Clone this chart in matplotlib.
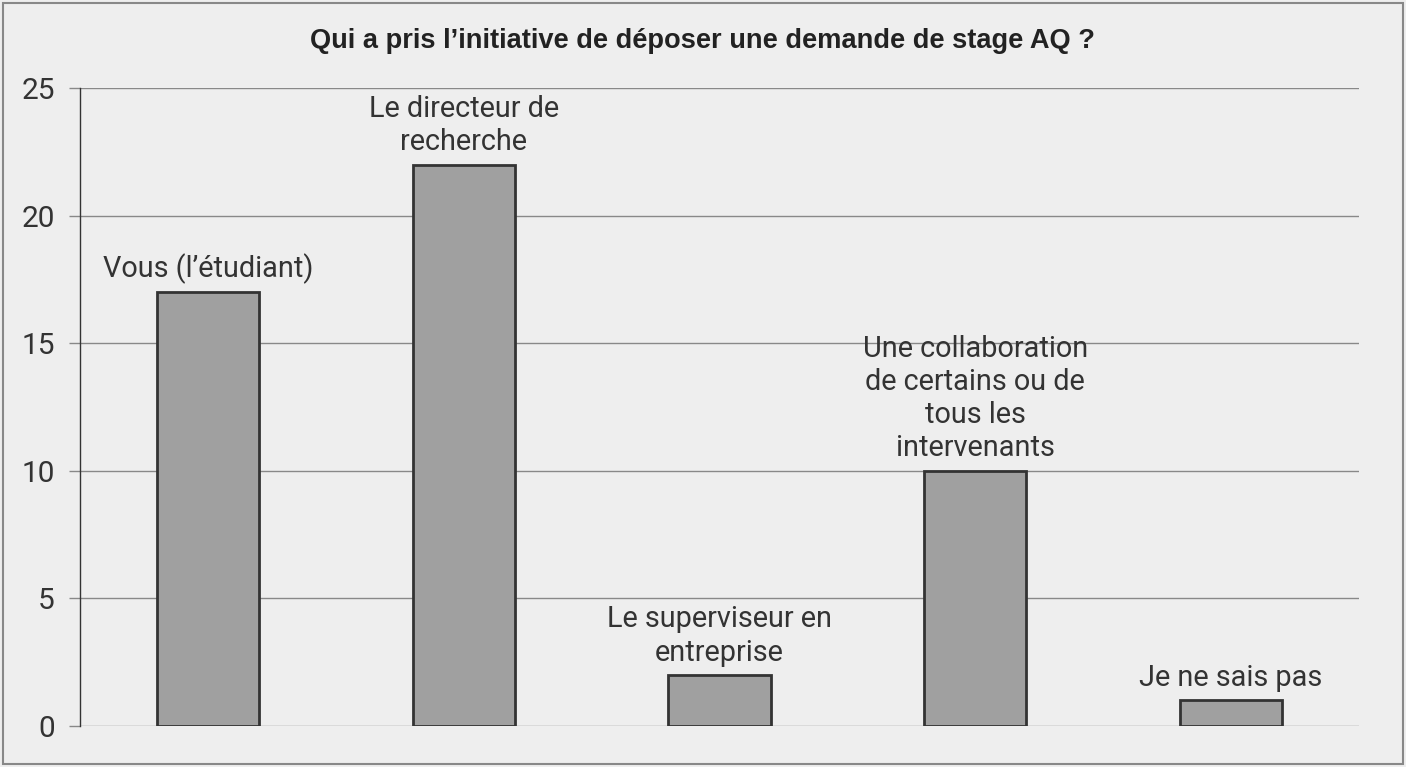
import matplotlib.pyplot as plt
from matplotlib.patches import Rectangle

categories = ['Vous (l’étudiant)',
              'Le directeur de\nrecherche',
              'Le superviseur en\nentreprise',
              'Une collaboration\nde certains ou de\ntous les\nintervenants',
              'Je ne sais pas']
counts = [17, 22, 2, 10, 1]
yticks = [0, 5, 10, 15, 20, 25]
title = 'Qui a pris l’initiative de déposer une demande de stage AQ ?'

plt.rcParams['font.family'] = ['Roboto', 'DejaVu Sans']
bg = '#eeeeee'
txt = '#333333'

fig = plt.figure(figsize=(14.06, 7.67), dpi=100, facecolor=bg)
W, H = 1406, 767
ax = fig.add_axes([80 / W, 1 - 726 / H, (1359 - 80) / W, (726 - 88) / H])
ax.set_facecolor(bg)

x = list(range(len(categories)))
ax.bar(x, counts, width=0.4, color='#a0a0a0', edgecolor='#333333', linewidth=2, zorder=3)

for xi, c, lab in zip(x, counts, categories):
    ax.annotate(lab, (xi, c), xytext=(0, 6), textcoords='offset points',
                ha='center', va='bottom', fontsize=20.8, color=txt,
                linespacing=1.24, zorder=4)

ax.set_xlim(-0.5, 4.5)
ax.set_ylim(0, 25)
ax.set_yticks(yticks)
ax.set_xticks([])
ax.grid(axis='y', color='#888888', linewidth=1, zorder=0)
for s in ['top', 'right', 'bottom']:
    ax.spines[s].set_visible(False)
ax.spines['left'].set_color('#333333')
ax.spines['left'].set_linewidth(1)
ax.tick_params(axis='y', length=8, width=1, color='#888888', pad=10,
               labelsize=21.5, labelcolor=txt)

fig.text(0.5, 1 - 41 / H, title, ha='center', va='center', fontsize=19.6,
         family=['Liberation Sans', 'DejaVu Sans'], fontweight='bold',
         color='#222222')

fig.patches.append(Rectangle((3 / W, 3 / H), 1 - 6 / W, 1 - 6 / H,
                             transform=fig.transFigure, fill=False,
                             edgecolor='#888888', linewidth=1.5))

fig.savefig('out.png', dpi=100, facecolor=bg)
